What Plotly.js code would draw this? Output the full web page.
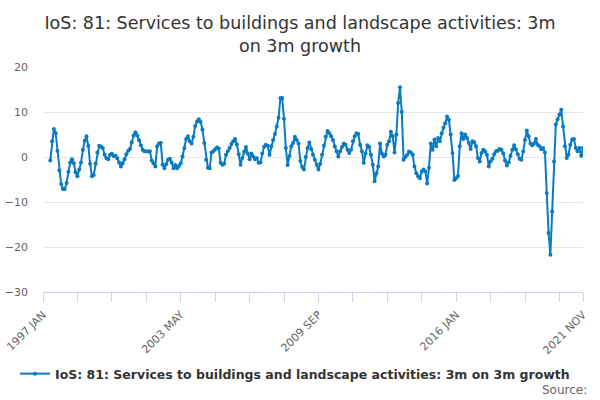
<!DOCTYPE html>
<html><head><meta charset="utf-8">
<script src="https://cdn.plot.ly/plotly-3.0.1.min.js"></script>
<style>html,body{margin:0;padding:0;background:#fff}#chart{width:600px;height:400px}</style>
</head><body><div id="chart"></div>
<script>
const monthNames = ['JAN','FEB','MAR','APR','MAY','JUN','JUL','AUG','SEP','OCT','NOV','DEC'];
const firstYear = 1997;
const lastYear = 2021;
const lastMonthCount = 11;
const seriesName = 'IoS: 81: Services to buildings and landscape activities: 3m on 3m growth';
const labelledMonths = ['1997 JAN','2003 MAY','2009 SEP','2016 JAN','2021 NOV'];
const growth = [
 null,null,null,null,-0.8,3.5,6.2,5.3,1.4,-3.0,-6.0,-7.1,
 -7.1,-5.8,-3.3,-1.2,-0.5,-1.4,-3.4,-4.3,-2.8,-1.2,1.6,3.6,
 4.6,2.5,-1.5,-4.3,-4.0,-1.5,1.0,2.5,2.3,2.0,0.5,-0.3,
 -0.5,0.5,0.7,0.2,0.3,-0.3,-1.2,-2.1,-1.4,-0.5,0.6,1.4,
 1.8,3.3,4.8,5.5,4.8,3.7,2.6,1.6,1.3,1.3,1.2,1.3,
 -0.8,-1.4,-2.1,2.4,3.0,3.1,-1.7,-2.5,-1.6,-0.6,-0.4,-1.2,
 -2.5,-1.8,-2.5,-2.0,-1.4,0.1,2.0,4.0,4.6,3.5,3.0,4.5,
 6.9,7.9,8.4,7.8,6.1,3.1,-0.6,-2.4,-2.5,1.0,1.3,1.7,
 2.1,1.9,-1.3,-1.7,-1.5,0.5,1.3,2.0,2.9,3.5,4.0,2.8,
 0.6,-1.7,-0.2,1.2,2.2,0.8,-0.5,0.8,0.1,-0.5,-0.3,-1.3,
 -1.2,0.8,2.3,2.7,2.5,0.5,2.4,3.8,5.1,6.8,8.7,13.1,
 13.1,8.5,2.0,-1.8,0.2,2.4,3.1,4.5,3.8,3.0,-0.9,-2.2,
 -2.8,0.0,2.0,3.2,1.8,0.5,-0.6,-1.7,-2.8,-1.5,0.5,2.5,
 4.5,5.8,5.3,4.6,3.8,2.4,1.3,0.1,1.3,2.2,3.0,2.7,
 1.6,0.9,1.6,3.5,4.6,5.3,5.1,2.7,1.3,-1.3,0.8,2.6,
 2.2,0.5,-1.7,-5.4,-3.6,-2.1,3.0,0.8,0.1,0.5,2.7,3.5,
 5.6,4.6,1.0,5.0,12.0,15.5,10.0,-0.6,0.0,0.5,1.2,1.0,
 0.5,-2.1,-3.6,-4.3,-4.7,-3.2,-2.8,-3.2,-5.9,-2.4,3.0,1.6,
 3.9,2.4,4.2,3.5,5.3,6.5,7.5,9.0,8.3,5.0,0.9,-5.1,
 -4.7,-4.2,2.4,5.3,4.0,5.0,4.2,3.1,1.8,3.5,3.3,2.4,
 -0.2,-1.0,0.9,1.6,1.2,0.5,-2.1,-1.0,-0.4,0.6,1.3,1.4,
 1.8,1.6,0.8,-0.8,-1.9,-1.2,0.3,1.6,2.6,1.7,0.6,-0.4,
 -0.6,1.2,3.8,5.9,4.6,3.0,2.6,3.0,4.0,2.7,2.4,1.7,
 2.0,1.0,-8.0,-16.9,-21.7,-12.1,-1.0,7.2,8.4,9.4,10.5,6.8,
 2.4,-0.2,0.5,2.7,3.9,4.0,2.0,1.3,2.0,0.3,2.0
];

const categories = [];
for (let y = firstYear; y <= lastYear; y++) {
  for (let m = 0; m < 12; m++) {
    if (y === lastYear && m >= lastMonthCount) break;
    categories.push(y + ' ' + monthNames[m]);
  }
}
const tickVals = categories.filter((c, i) => i % 19 === 0 || i === categories.length - 1);
const tickText = tickVals.map(c => labelledMonths.includes(c) ? c : '');

const lineColor = '#0a7bc0';
const font = 'DejaVu Sans, sans-serif';

const trace = {
  type: 'scatter', mode: 'lines+markers',
  x: categories, y: growth, name: seriesName,
  line: {color: lineColor, width: 2},
  marker: {color: lineColor, size: 4},
  showlegend: true
};

const layout = {
  width: 600, height: 400,
  margin: {l: 43, r: 17, t: 67, b: 108},
  paper_bgcolor: '#fff', plot_bgcolor: '#fff',
  font: {family: font, color: '#666'},
  title: {
    text: 'IoS: 81: Services to buildings and landscape activities: 3m<br>on 3m growth',
    font: {family: font, size: 17.5, color: '#333'},
    x: 0.5, xanchor: 'center', xref: 'container',
    y: 1 - 29/400, yanchor: 'middle', yref: 'container'
  },
  xaxis: {
    type: 'category', categoryorder: 'array', categoryarray: categories,
    range: [0, categories.length - 1],
    tickmode: 'array', tickvals: tickVals, ticktext: tickText,
    tickangle: -45, ticks: 'outside', ticklen: 9, tickcolor: '#ccd6eb', tickwidth: 1,
    ticklabelstandoff: 2,
    showline: true, linecolor: '#ccd6eb', linewidth: 1,
    showgrid: false, zeroline: false,
    tickfont: {family: font, size: 11, color: '#666'}
  },
  yaxis: {
    range: [-30, 20], dtick: 10, tick0: 0,
    showgrid: true, gridcolor: '#e6e6e6', gridwidth: 1,
    zeroline: false, showline: false, ticks: '',
    ticklabelstandoff: 14,
    tickfont: {family: font, size: 11, color: '#666'}
  },
  legend: {
    orientation: 'h', x: 0.5 - 5/600, xanchor: 'center', xref: 'container',
    y: 1 - 374/400, yanchor: 'middle', yref: 'container',
    font: {family: font, size: 12.5, color: '#333', weight: 'bold'},
    itemwidth: 30
  },
  annotations: [{
    text: 'Source:', xref: 'paper', yref: 'paper',
    x: 1 + 6/540, xanchor: 'right', y: -(390-292)/225, yanchor: 'middle',
    showarrow: false, font: {family: font, size: 12, color: '#666'}
  }]
};

Plotly.newPlot('chart', [trace], layout, {displayModeBar: false, staticPlot: true});
</script>
</body></html>
